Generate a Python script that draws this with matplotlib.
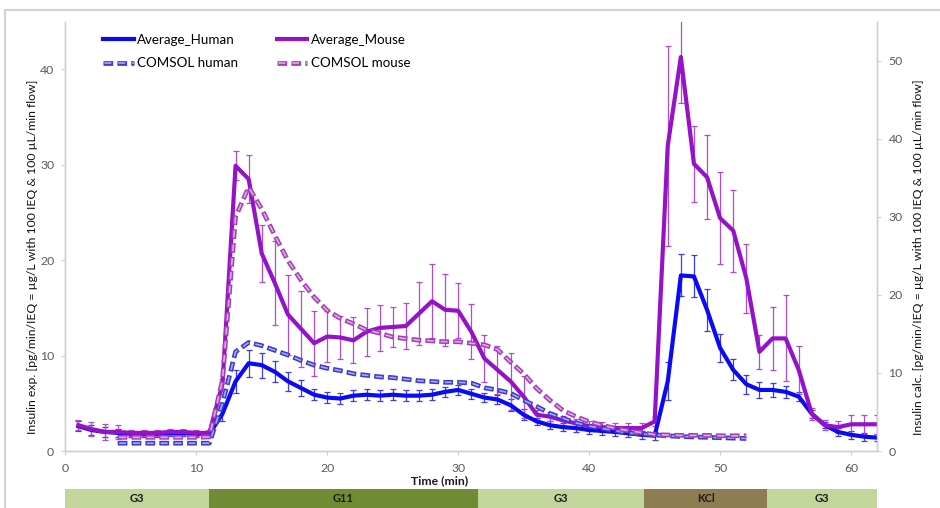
import matplotlib
matplotlib.use('Agg')
import matplotlib.pyplot as plt
from matplotlib.patches import Rectangle
from matplotlib.lines import Line2D

plt.rcParams['font.family'] = ['Lato', 'DejaVu Sans']
plt.rcParams['lines.scale_dashes'] = False

# ---------------- data ----------------
time = list(range(1, 63))
human_avg = [2.6, 2.2, 2.0, 1.9, 1.8, 1.8, 1.8, 1.9, 1.9, 1.8,
             1.8, 3.9, 7.3, 9.2, 9.0, 8.3, 7.3, 6.6, 5.9, 5.6,
             5.5, 5.8, 5.9, 5.8, 5.9, 5.8, 5.8, 5.9, 6.2, 6.4,
             6.0, 5.6, 5.4, 4.8, 3.8, 3.1, 2.7, 2.5, 2.4, 2.2,
             2.1, 2.0, 1.85, 1.7, 1.6, 7.3, 18.4, 18.3, 14.8, 10.8,
             8.5, 7.0, 6.4, 6.4, 6.2, 5.7, 3.9, 2.7, 2.0, 1.7,
             1.5, 1.4]
human_err = [0.5, 0.5, 0.5, 0.4, 0.3, 0.3, 0.3, 0.3, 0.3, 0.3,
             0.3, 0.8, 1.2, 1.4, 1.3, 1.1, 1.0, 0.8, 0.6, 0.6,
             0.6, 0.55, 0.55, 0.55, 0.55, 0.55, 0.55, 0.55, 0.55, 0.5,
             0.5, 0.5, 0.5, 0.6, 0.6, 0.4, 0.4, 0.4, 0.4, 0.4,
             0.4, 0.4, 0.4, 0.4, 0.4, 2.0, 2.2, 2.2, 2.2, 1.5,
             1.1, 1.0, 0.8, 0.7, 0.6, 0.5, 0.4, 0.3, 0.4, 0.4,
             0.4, 0.4]
mouse_avg = [2.7, 2.3, 2.0, 2.0, 1.9, 1.9, 1.9, 2.0, 2.0, 1.9,
             1.9, 7.0, 29.9, 28.5, 20.7, 17.6, 14.3, 12.8, 11.3, 12.0,
             11.9, 11.6, 12.5, 12.9, 13.0, 13.1, 14.4, 15.7, 14.8, 14.7,
             12.5, 9.7, 8.5, 7.3, 5.7, 3.8, 3.6, 3.2, 2.9, 2.6,
             2.5, 2.4, 2.4, 2.4, 3.1, 32.0, 41.3, 30.1, 28.7, 24.4,
             23.1, 18.1, 10.4, 11.8, 11.8, 8.5, 3.9, 2.7, 2.5, 2.8,
             2.8, 2.8]
mouse_err = [0.55, 0.7, 0.8, 0.7, 0.3, 0.3, 0.3, 0.3, 0.3, 0.3,
             0.3, 0.5, 1.5, 2.5, 3.0, 4.4, 4.2, 4.0, 3.4, 2.7,
             2.3, 2.4, 2.5, 2.4, 2.1, 2.4, 3.3, 3.9, 3.8, 2.9,
             2.9, 2.5, 2.5, 3.0, 2.2, 0.5, 0.5, 0.5, 0.5, 0.5,
             0.5, 0.5, 0.5, 0.5, 0.5, 10.5, 4.8, 4.0, 4.4, 4.8,
             4.3, 3.6, 1.8, 3.3, 4.5, 2.5, 0.6, 0.5, 0.6, 1.0,
             1.0, 1.0]

comsol_time = list(range(4, 53))
comsol_human = [1.0, 1.0, 1.0, 1.0, 1.0, 1.0, 1.0, 1.0, 6.1, 12.7,
                13.9, 13.5, 12.9, 12.3, 11.6, 11.0, 10.6, 10.3, 9.9, 9.7,
                9.5, 9.4, 9.2, 9.0, 8.9, 8.8, 8.8, 8.7, 8.1, 7.8,
                7.4, 6.5, 5.7, 4.8, 4.2, 3.6, 3.2, 2.9, 2.6, 2.3,
                2.2, 2.05, 1.95, 1.85, 1.8, 1.75, 1.7, 1.65, 1.6]
comsol_mouse = [1.75, 1.75, 1.75, 1.75, 1.75, 1.75, 1.75, 1.8, 9.1, 30.0,
                33.8, 31.0, 27.6, 24.4, 21.9, 19.7, 18.0, 17.0, 16.3, 15.5,
                15.1, 14.6, 14.4, 14.2, 14.1, 14.0, 14.0, 13.8, 13.6, 13.0,
                11.4, 9.9, 8.0, 6.5, 5.2, 4.4, 3.75, 3.3, 2.9, 2.6,
                2.35, 2.1, 2.05, 2.0, 2.0, 2.0, 1.95, 1.95, 1.95]

phase_labels = ['G3', 'G11', 'G3', 'KCl', 'G3']
phase_start = [0, 11, 31.5, 44.2, 53.6]
phase_end = [11, 31.5, 44.2, 53.6, 62]

x_ticks = [0, 10, 20, 30, 40, 50, 60]
left_ticks = [0, 10, 20, 30, 40]
right_ticks = [0, 10, 20, 30, 40, 50]

# ---------------- styling ----------------
W, H = 940, 508
BLUE = '#0a0af5'
BLUE_ERR = '#3a3af0'
PURPLE = '#9612c8'
PURPLE_ERR = '#b04ad8'
TICK_C = '#595959'
SPINE_C = '#d0d0d0'
phase_colors = {'G3': '#c2d59a', 'G11': '#6f8c34', 'KCl': '#8f7d52'}

fig = plt.figure(figsize=(W / 100, H / 100), dpi=100)
fig.patches.append(Rectangle((5 / W, -0.05), (W + 5) / W, (508 - 10) / H + 0.05,
                             transform=fig.transFigure, fill=False,
                             edgecolor='#d3d3d3', lw=1.6, zorder=0))

L, R, B, T = 65.3, 877.3, 451, 21.7
ax = fig.add_axes([L / W, (H - B) / H, (R - L) / W, (B - T) / H])
ax2 = ax.twinx()

ax.errorbar(time, human_avg, yerr=human_err, color=BLUE, lw=3.0,
            ecolor=BLUE_ERR, elinewidth=0.9, capsize=2.5, capthick=0.9,
            solid_joinstyle='round', zorder=3)
ax.errorbar(time, mouse_avg, yerr=mouse_err, color=PURPLE, lw=3.0,
            ecolor=PURPLE_ERR, elinewidth=0.9, capsize=2.5, capthick=0.9,
            solid_joinstyle='round', zorder=3)


def comsol(axis, t, v, outer, inner):
    o, = axis.plot(t, v, color=outer, lw=3.4, linestyle=(0, (7.0, 3.0)),
                   dash_capstyle='butt')
    i, = axis.plot(t, v, color=inner, lw=1.2, linestyle=(9.0, (5.0, 5.0)),
                   dash_capstyle='butt')
    return (o, i)


h_ch = comsol(ax2, comsol_time, comsol_human, '#3a3ad0', '#a8a8ff')
h_cm = comsol(ax2, comsol_time, comsol_mouse, '#a040b8', '#e6a6e6')

ax.set_xlim(0, 62)
ax.set_ylim(0, 45)
ax2.set_ylim(0, 55)
ax.set_xticks(x_ticks)
ax.set_yticks(left_ticks)
ax2.set_yticks(right_ticks)

for a in (ax, ax2):
    a.spines['top'].set_visible(False)
    for s in ('left', 'right', 'bottom'):
        a.spines[s].set_color(SPINE_C)
        a.spines[s].set_linewidth(1.0)
    a.tick_params(colors=SPINE_C, labelcolor=TICK_C, labelsize=8.8, length=3,
                  width=0.8, pad=5)
ax.tick_params(axis='x', pad=6)

fig.text(440 / W, 1 - 481 / H, 'Time (min)', ha='center', va='center',
         fontsize=8.8, fontweight='bold', color='#1a1a1a')
fig.text(33 / W, 1 - 257 / H,
         'Insulin exp. [pg/min/IEQ = µg/L with 100 IEQ & 100 µL/min flow]',
         rotation=90, ha='center', va='center', fontsize=8.8, color='#111111')
fig.text(918 / W, 1 - 257 / H,
         'Insulin calc. [pg/min/IEQ = µg/L with 100 IEQ & 100 µL/min flow]',
         rotation=90, ha='center', va='center', fontsize=8.8, color='#111111')

h_ah = Line2D([], [], color=BLUE, lw=3.0)
h_am = Line2D([], [], color=PURPLE, lw=3.0)
ax2.legend([h_ah, h_ch, h_am, h_cm],
           ['Average_Human', 'COMSOL human', 'Average_Mouse', 'COMSOL mouse'],
           ncol=2, frameon=False, loc='upper left',
           bbox_to_anchor=(103 / W, 1 - 34 / H), bbox_transform=fig.transFigure,
           borderpad=0, borderaxespad=0, fontsize=9.6, handlelength=2.3,
           handletextpad=0.25, columnspacing=2.9, labelspacing=0.85)

# phase bar
axb = fig.add_axes([L / W, 0, (R - L) / W, 19 / H])
for lab, s, e in zip(phase_labels, phase_start, phase_end):
    axb.barh(0, e - s, left=s, height=1, color=phase_colors[lab],
             edgecolor='none')
    axb.text((s + e) / 2, 0, lab, ha='center', va='center', fontsize=8,
             fontweight='bold', color='#1a1a1a')
axb.set_xlim(0, 62)
axb.set_ylim(-0.5, 0.5)
axb.axis('off')

fig.savefig('out.png', dpi=100)
